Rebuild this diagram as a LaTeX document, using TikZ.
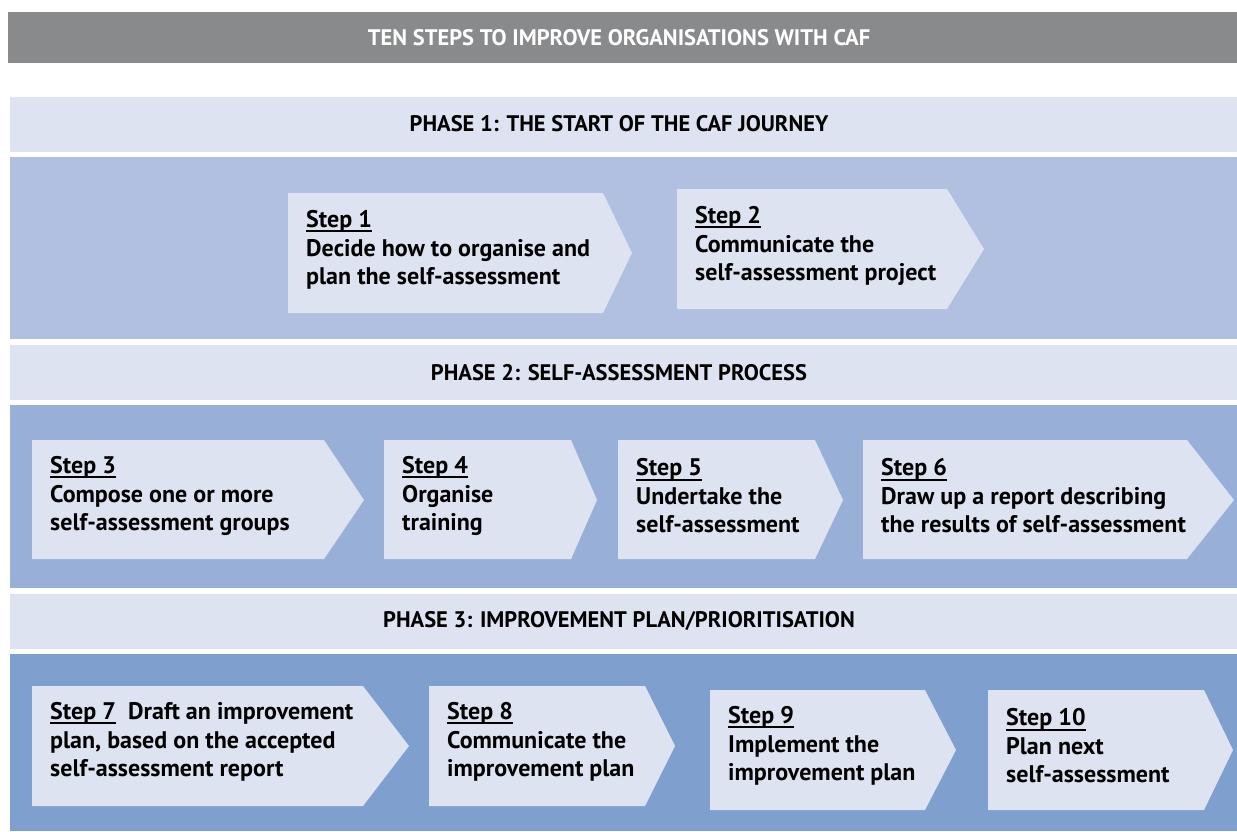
\documentclass[tikz,border=0pt]{standalone}
\usepackage{fontspec}
\setmainfont{PT Sans}
\newcommand{\stepul}[1]{\setbox0\hbox{#1}\rlap{\vrule height -2.8pt depth 4.6pt width \wd0}\box0}
\definecolor{titlegray}{HTML}{898A8C}
\definecolor{headblue}{HTML}{DEE3F1}
\definecolor{phaseA}{HTML}{B1C0E1}
\definecolor{phaseB}{HTML}{98B0D8}
\definecolor{phaseC}{HTML}{7F9FCE}
\tikzset{
  steptext/.style={anchor=west,align=left,inner sep=0pt,font=\bfseries\fontsize{24}{28.5}\selectfont},
  headtext/.style={inner sep=0pt,font=\bfseries\fontsize{22.5}{26}\selectfont},
  stepfill/.style={fill=headblue},
}
\begin{document}
\begin{tikzpicture}[x=1pt,y=-1pt]
        \useasboundingbox (0,0) rectangle (1237,831);
        % bands
        \fill[titlegray] (8,12) rectangle (1237,63);
        \fill[headblue] (10,97) rectangle (1237,152);
        \fill[phaseA] (10,157) rectangle (1237,339);
        \fill[headblue] (10,345) rectangle (1237,400);
        \fill[phaseB] (10,405) rectangle (1237,588);
        \fill[headblue] (10,594) rectangle (1237,649);
        \fill[phaseC] (10,654) rectangle (1237,831);
        \node[headtext,text=white] (title) at (619,38) {TEN STEPS TO IMPROVE ORGANISATIONS WITH CAF};
        \node[headtext] (ph1) at (619,124) {PHASE 1: THE START OF THE CAF JOURNEY};
        \node[headtext] (ph2) at (619,373) {PHASE 2: SELF-ASSESSMENT PROCESS};
        \node[headtext] (ph3) at (619,621) {PHASE 3: IMPROVEMENT PLAN/PRIORITISATION};
        % phase 1
        \fill[stepfill] (288,193) -- (603,193) -- (632,253) -- (603,313) -- (288,313) -- cycle;
        \fill[stepfill] (677,189) -- (947,189) -- (984,249) -- (947,309) -- (677,309) -- cycle;
        \node[steptext] (s1) at (306,250) {\stepul{Step 1}\\Decide how to organise and\\plan the self-assessment};
        \node[steptext] (s2) at (695,246) {\stepul{Step 2}\\Communicate the\\self-assessment project};
        % phase 2
        \fill[stepfill] (32,440) -- (324,440) -- (364,500) -- (324,559) -- (32,559) -- cycle;
        \fill[stepfill] (384,440) -- (571,440) -- (597,500) -- (571,559) -- (384,559) -- cycle;
        \fill[stepfill] (618,440) -- (815,440) -- (843,500) -- (815,559) -- (618,559) -- cycle;
        \fill[stepfill] (863,440) -- (1187,440) -- (1234,500) -- (1187,559) -- (863,559) -- cycle;
        \node[steptext] (s3) at (50,496) {\stepul{Step 3}\\Compose one or more\\self-assessment groups};
        \node[steptext] (s4) at (402,496) {\stepul{Step 4}\\Organise\\training};
        \node[steptext] (s5) at (636,496) {\stepul{Step 5}\\Undertake the\\self-assessment};
        \node[steptext] (s6) at (881,496) {\stepul{Step 6}\\Draw up a report describing\\the results of self-assessment};
        % phase 3
        \fill[stepfill] (32,686) -- (363,686) -- (409,746) -- (363,806) -- (32,806) -- cycle;
        \fill[stepfill] (429,686) -- (645,686) -- (675,746) -- (645,806) -- (429,806) -- cycle;
        \fill[stepfill] (710,690) -- (925,690) -- (956,750) -- (925,810) -- (710,810) -- cycle;
        \fill[stepfill] (988,690) -- (1204,690) -- (1233,750) -- (1204,810) -- (988,810) -- cycle;
        \node[steptext] (s7) at (50,742) {\stepul{Step 7}\ \ Draft an improvement\\plan, based on the accepted\\self-assessment report};
        \node[steptext] (s8) at (447,742) {\stepul{Step 8}\\Communicate the\\improvement plan};
        \node[steptext] (s9) at (728,746) {\stepul{Step 9}\\Implement the\\improvement plan};
        \node[steptext] (s10) at (1006,746) {\stepul{Step 10}\\Plan next\\self-assessment};
\end{tikzpicture}
\end{document}
